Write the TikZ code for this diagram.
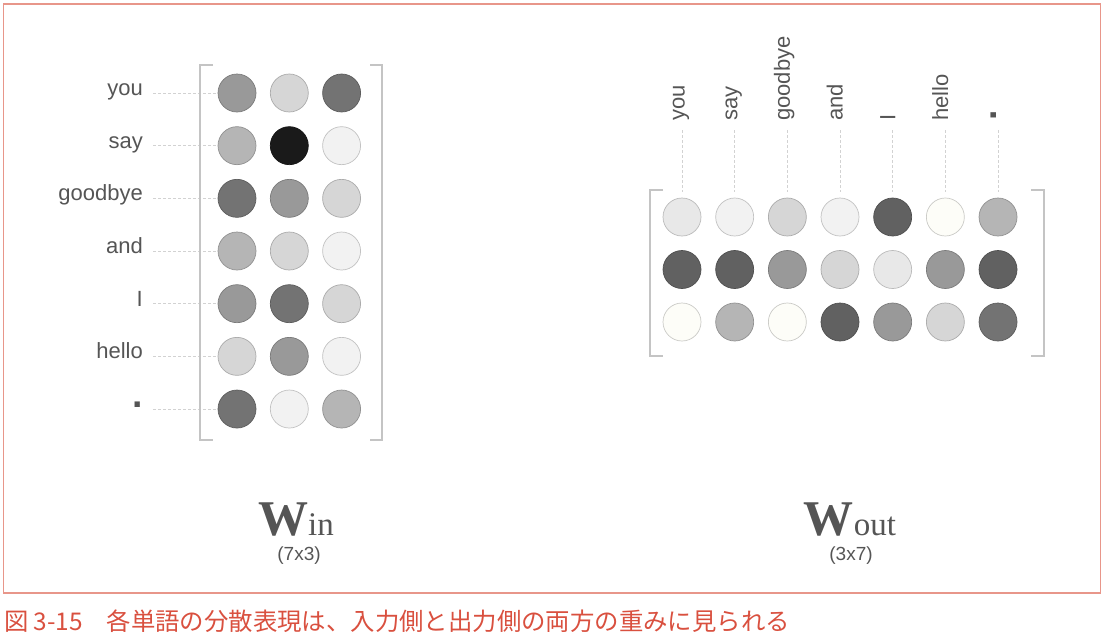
\documentclass[tikz,border=0pt]{standalone}
\usepackage{fontspec}
\setmainfont{Liberation Sans}
\newfontfamily\serifw{Liberation Serif}
\newfontfamily\jp{Noto Sans CJK JP}
\definecolor{gA}{HTML}{1A1A1A}
\definecolor{gB}{HTML}{616161}
\definecolor{gC}{HTML}{737373}
\definecolor{gD}{HTML}{999999}
\definecolor{gE}{HTML}{B5B5B5}
\definecolor{gF}{HTML}{D6D6D6}
\definecolor{gG}{HTML}{E8E8E8}
\definecolor{gH}{HTML}{F2F2F2}
\definecolor{gI}{HTML}{FDFDF8}
\definecolor{txt}{HTML}{555555}
\definecolor{brk}{HTML}{C4C4C4}
\definecolor{dashc}{HTML}{D2D2D2}
\definecolor{framec}{HTML}{E8968A}
\definecolor{capred}{HTML}{D9503F}
\newcommand{\bigdot}{\raisebox{0.2em}{\scalebox{1.7}{\bfseries .}}}
\begin{document}
\begin{tikzpicture}[x=1pt,y=-1pt,
  dot/.style={circle,minimum size=38pt,inner sep=0pt,line width=0.7pt,fill=#1,draw=#1!80!black},
  lbl/.style={inner sep=0pt,text=txt,font=\fontsize{22}{22}\selectfont},
  dashln/.style={draw=dashc,line width=0.6pt,dash pattern=on 3pt off 2pt},
  bracket/.style={draw=brk,line width=1.2pt},
  frame/.style={draw=framec,line width=1.5pt},
  dims/.style={inner sep=0pt,text=txt,font=\fontsize{19}{19}\selectfont}]
\useasboundingbox (0,0) rectangle (1105,635);
\draw[frame] (3.5,4) rectangle (1100.5,593);

% ---------- left matrix W_in ----------
\foreach \w [count=\i] in {you,say,goodbye,and,I,hello,\bigdot} {
  \node[lbl,anchor=mid east] (wl\i) at (143,{93+(\i-1)*52.67}) {\w};
}
\foreach \row [count=\i] in {{gD,gF,gC},{gE,gA,gH},{gC,gD,gF},{gE,gF,gH},{gD,gC,gF},{gF,gD,gH},{gC,gH,gE}} {
  \foreach \c [count=\j] in \row {
    \node[dot=\c] (a\i\j) at ({237+(\j-1)*52.3},{93+(\i-1)*52.67}) {};
  }
}
\foreach \i in {1,...,7} {
  \draw[dashln] (153,0 |- a\i1.west) -- (a\i1.west);
}
\draw[bracket] (213,65) -- (200,65) -- (200,440) -- (213,440);
\draw[bracket] (370,65) -- (382,65) -- (382,440) -- (370,440);

% ---------- right matrix W_out ----------
\foreach \row [count=\i] in {{gG,gH,gF,gH,gB,gI,gE},{gB,gB,gD,gF,gG,gD,gB},{gI,gE,gI,gB,gD,gF,gC}} {
  \foreach \c [count=\j] in \row {
    \node[dot=\c] (b\i\j) at ({682+(\j-1)*52.67},{217+(\i-1)*52.5}) {};
  }
}
\foreach \w [count=\j] in {you,say,goodbye,and,I,hello,\bigdot} {
  \node[lbl,rotate=90,anchor=mid west] (wr\j) at ({682+(\j-1)*52.67},121) {\w};
  \draw[dashln,shorten >=6pt] (b1\j.north |- 0,130) -- (b1\j.north);
}
\draw[bracket] (663,190) -- (650,190) -- (650,356) -- (663,356);
\draw[bracket] (1031,190) -- (1044,190) -- (1044,356) -- (1031,356);

% ---------- titles ----------
\node[anchor=base,inner sep=0pt,text=txt] (win) at (296,535)
  {\serifw\fontsize{50}{50}\selectfont\bfseries W\fontsize{33}{33}\selectfont\mdseries in};
\node[dims] (win-dim) at (299,556) {(7x3)};
\node[anchor=base,inner sep=0pt,text=txt] (wout) at (850,535)
  {\serifw\fontsize{50}{50}\selectfont\bfseries W\fontsize{33}{33}\selectfont\mdseries out};
\node[dims] (wout-dim) at (851,556) {(3x7)};

% ---------- caption ----------
\node[anchor=west,inner sep=0pt,text=capred] (cap) at (4,621)
  {\jp\fontsize{24.4}{24.4}\selectfont 図\hspace{5pt}3-15\hspace{24pt}各単語の分散表現は、入力側と出力側の両方の重みに見られる};
\end{tikzpicture}
\end{document}
